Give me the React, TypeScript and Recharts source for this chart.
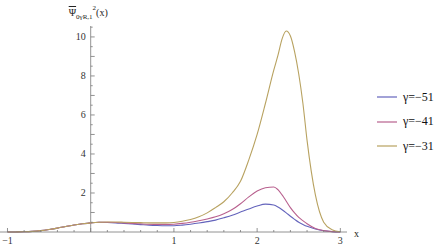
import { LineChart, Line, XAxis, YAxis, ReferenceLine } from "recharts";

const xs = [-1, -0.9, -0.8, -0.7, -0.6, -0.5, -0.4, -0.3, -0.2, -0.1, 0, 0.1, 0.2, 0.3, 0.4, 0.5, 0.6, 0.7, 0.8, 0.9, 1, 1.1, 1.2, 1.3, 1.4, 1.5, 1.6, 1.7, 1.8, 1.9, 2, 2.1, 2.2, 2.25, 2.3, 2.35, 2.4, 2.45, 2.5, 2.55, 2.6, 2.7, 2.8, 2.9, 3];
const gamma51 = [0, 0.003, 0.01, 0.03, 0.07, 0.13, 0.2, 0.28, 0.36, 0.42, 0.47, 0.5, 0.49, 0.47, 0.44, 0.41, 0.38, 0.35, 0.33, 0.32, 0.32, 0.35, 0.4, 0.46, 0.53, 0.61, 0.73, 0.86, 1.02, 1.18, 1.33, 1.43, 1.38, 1.28, 1.14, 0.98, 0.81, 0.65, 0.5, 0.39, 0.29, 0.15, 0.06, 0.02, 0];
const gamma41 = [0, 0.003, 0.01, 0.03, 0.07, 0.13, 0.2, 0.28, 0.36, 0.42, 0.47, 0.5, 0.5, 0.49, 0.47, 0.44, 0.42, 0.4, 0.39, 0.39, 0.4, 0.44, 0.5, 0.58, 0.67, 0.78, 0.94, 1.15, 1.45, 1.8, 2.1, 2.27, 2.31, 2.17, 1.9, 1.58, 1.25, 0.98, 0.75, 0.58, 0.42, 0.18, 0.07, 0.02, 0];
const gamma31 = [0, 0.003, 0.01, 0.03, 0.07, 0.13, 0.2, 0.28, 0.36, 0.42, 0.47, 0.5, 0.51, 0.51, 0.5, 0.49, 0.48, 0.47, 0.47, 0.47, 0.49, 0.55, 0.64, 0.78, 0.98, 1.25, 1.55, 2.0, 2.6, 3.7, 5.0, 6.6, 8.3, 9.05, 9.9, 10.3, 10.05, 9.25, 8.1, 6.6, 4.7, 1.9, 0.5, 0.12, 0.01];

const xTicks = [-1, -0.8, -0.6, -0.4, -0.2, 0, 0.2, 0.4, 0.6, 0.8, 1, 1.2, 1.4, 1.6, 1.8, 2, 2.2, 2.4, 2.6, 2.8, 3];
const xLabels = [-1, 1, 2, 3];
const yTicks = [0.5, 1, 1.5, 2, 2.5, 3, 3.5, 4, 4.5, 5, 5.5, 6, 6.5, 7, 7.5, 8, 8.5, 9, 9.5, 10, 10.5];
const yLabels = [2, 4, 6, 8, 10];

const series = [
  { key: "g51", name: "γ=−51", color: "#6464bc" },
  { key: "g41", name: "γ=−41", color: "#b8608e" },
  { key: "g31", name: "γ=−31", color: "#b8a260" },
];

const data = xs.map((x, i) => ({ x, g51: gamma51[i], g41: gamma41[i], g31: gamma31[i] }));

const W = 447;
const H = 247;
const RIGHT = 100;
const X_MIN = -1.09;
const X_MAX = 3.08;
const plotW = W - RIGHT;
// the y axis is drawn at x = 0, not at the left edge of the plot
const yAxisShift = ((0 - X_MIN) / (X_MAX - X_MIN)) * plotW;

const axisColor = "#777";
const font = "'Liberation Serif', serif";

const XTick = (props: any) => {
  const { x, y, payload } = props;
  const v = Math.round(payload.value * 10) / 10;
  const major = Number.isInteger(v);
  return (
    <g>
      <line x1={x} x2={x} y1={y} y2={y - (major ? 4 : 2)} stroke={axisColor} strokeWidth={0.8} />
      {xLabels.includes(v) && (
        <text x={x} y={y + 12} textAnchor="middle" fontSize={10} fontFamily={font} fill="#333">
          {v < 0 ? "−" + Math.abs(v) : v}
        </text>
      )}
    </g>
  );
};

const YTick = (props: any) => {
  const { y, payload } = props;
  const v = payload.value;
  const major = Number.isInteger(v);
  const ax = yAxisShift;
  return (
    <g>
      <line x1={ax} x2={ax + (major ? 4 : 2)} y1={y} y2={y} stroke={axisColor} strokeWidth={0.8} />
      {yLabels.includes(v) && (
        <text x={ax - 5} y={y + 3.5} textAnchor="end" fontSize={10} fontFamily={font} fill="#333">
          {v}
        </text>
      )}
    </g>
  );
};

const YTitle = (props: any) => {
  const vb = props.viewBox || { x: 0, y: 0 };
  return (
    <text x={vb.x - 22} y={vb.y - 10} fontFamily={font} fontSize={10} fill="#222">
      <tspan style={{ textDecoration: "overline" }}>Ψ</tspan>
      <tspan fontSize={7} dy={2.5}>0γR,1</tspan>
      <tspan fontSize={7} dy={-9}>2</tspan>
      <tspan dy={6.5}>(x)</tspan>
    </text>
  );
};

const XTitle = (props: any) => {
  const vb = props.viewBox || { x: 0, y: 0, width: 0 };
  return (
    <text x={vb.x + vb.width + 7} y={vb.y + 5} fontFamily={font} fontSize={10} fill="#222">
      x
    </text>
  );
};

export default function App() {
  return (
    <div style={{ position: "absolute", left: 0, top: 0, width: W, height: H, background: "#fff" }}>
      <LineChart width={W} height={H} data={data} margin={{ top: 26, right: RIGHT, bottom: 3, left: -1 }}>
        <XAxis
          dataKey="x"
          type="number"
          domain={[X_MIN, X_MAX]}
          ticks={xTicks}
          interval={0}
          height={12}
          tickSize={0}
          tickMargin={0}
          tickLine={false}
          axisLine={{ stroke: axisColor, strokeWidth: 0.8 }}
          tick={<XTick />}
          label={<XTitle />}
        />
        <YAxis
          type="number"
          domain={[0, 10.56]}
          ticks={yTicks}
          interval={0}
          width={1}
          tickSize={0}
          tickMargin={0}
          tickLine={false}
          axisLine={false}
          tick={<YTick />}
        />
        <ReferenceLine x={0} stroke={axisColor} strokeWidth={0.8} label={<YTitle />} />
        {series.map((s) => (
          <Line
            key={s.key}
            dataKey={s.key}
            name={s.name}
            type="monotone"
            stroke={s.color}
            strokeWidth={1.1}
            dot={false}
            isAnimationActive={false}
          />
        ))}
      </LineChart>
      <div style={{ position: "absolute", left: 377, top: 85, fontSize: 12, color: "#111", fontFamily: "'Liberation Serif', serif" }}>
        {series.map((s) => (
          <div key={s.key} style={{ display: "flex", alignItems: "center", height: 24.5 }}>
            <svg width={26} height={10}>
              <line x1={0} x2={20} y1={5} y2={5} stroke={s.color} strokeWidth={1.2} />
            </svg>
            <span>{s.name}</span>
          </div>
        ))}
      </div>
    </div>
  );
}
